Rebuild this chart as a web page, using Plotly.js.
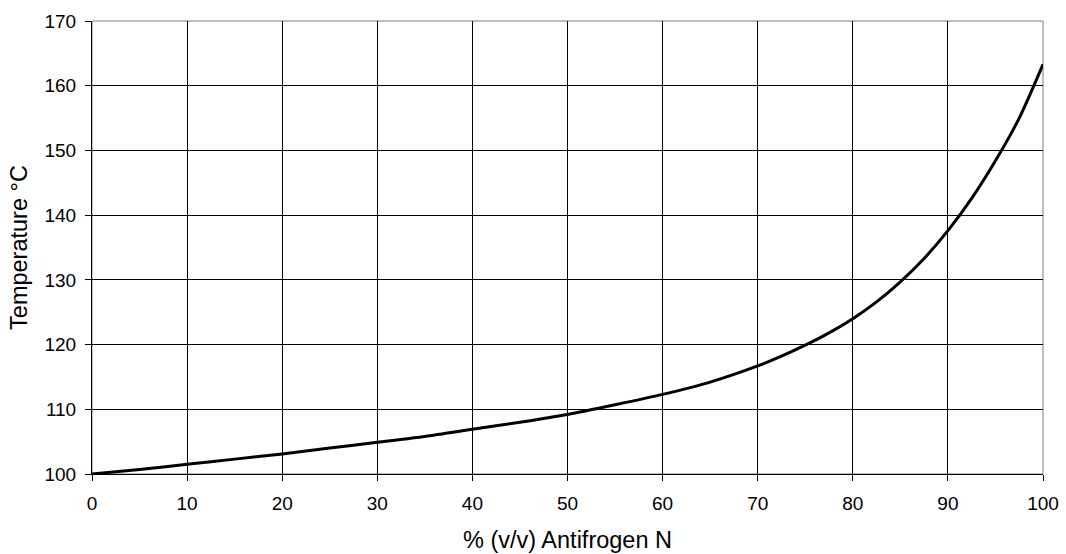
<!DOCTYPE html>
<html>
<head>
<meta charset="utf-8">
<script src="https://cdn.plot.ly/plotly-3.0.1.min.js"></script>
<style>html,body{margin:0;padding:0;background:#fff;}#chart{width:1066px;height:554px;}</style>
</head>
<body>
<div id="chart"></div>
<script>
// % (v/v) Antifrogen N
const concentration = [0, 5, 10, 15, 20, 25, 30, 35, 40, 45, 50, 55, 60, 65, 70, 72.5, 75, 77.5, 80, 82.5, 85, 87.5, 90, 92.5, 95, 97.5, 100];
// Temperature °C
const temperature = [100.0, 100.7, 101.5, 102.3, 103.1, 104.0, 104.9, 105.8, 106.9, 108.0, 109.2, 110.7, 112.3, 114.2, 116.7, 118.2, 119.9, 121.8, 124.0, 126.6, 129.7, 133.3, 137.6, 142.6, 148.4, 155.0, 163.3];
const xTicks = [0, 10, 20, 30, 40, 50, 60, 70, 80, 90, 100];
const yTicks = [100, 110, 120, 130, 140, 150, 160, 170];

const font = "Liberation Sans, Arial, sans-serif";

Plotly.newPlot('chart', [{
  x: concentration,
  y: temperature,
  type: 'scatter',
  mode: 'lines',
  line: {color: '#000000', width: 3, shape: 'spline', smoothing: 0.7},
  hoverinfo: 'x+y'
}], {
  width: 1066,
  height: 554,
  margin: {l: 92, r: 23, t: 21, b: 80},
  paper_bgcolor: '#ffffff',
  plot_bgcolor: '#ffffff',
  showlegend: false,
  font: {family: font, color: '#000000', size: 19},
  xaxis: {
    range: [0, 100],
    tickvals: xTicks,
    ticktext: xTicks.map(String),
    ticks: 'outside', ticklen: 6, tickcolor: '#000', tickwidth: 1,
    ticklabelstandoff: 6,
    showgrid: true, gridcolor: '#000000', gridwidth: 1,
    showline: true, linecolor: '#000000', linewidth: 1,
    zeroline: false,
    tickfont: {family: font, size: 19, color: '#000'},
    title: {text: '% (v/v) Antifrogen N', font: {family: font, size: 23.5, color: '#000'}, standoff: 18}
  },
  yaxis: {
    range: [100, 170],
    tickvals: yTicks,
    ticktext: yTicks.map(String),
    ticks: 'outside', ticklen: 6, tickcolor: '#000', tickwidth: 1,
    ticklabelstandoff: 5,
    showgrid: true, gridcolor: '#000000', gridwidth: 1,
    showline: true, linecolor: '#000000', linewidth: 1,
    zeroline: false,
    tickfont: {family: font, size: 19, color: '#000'},
    title: {text: 'Temperature °C', font: {family: font, size: 23.5, color: '#000'}, standoff: 10}
  },
  shapes: [{
    type: 'rect', xref: 'paper', yref: 'paper', x0: 0, x1: 1, y0: 0, y1: 1,
    line: {color: '#808080', width: 1}, fillcolor: 'rgba(0,0,0,0)', layer: 'below'
  }]
}, {displayModeBar: false, staticPlot: true});
</script>
</body>
</html>
